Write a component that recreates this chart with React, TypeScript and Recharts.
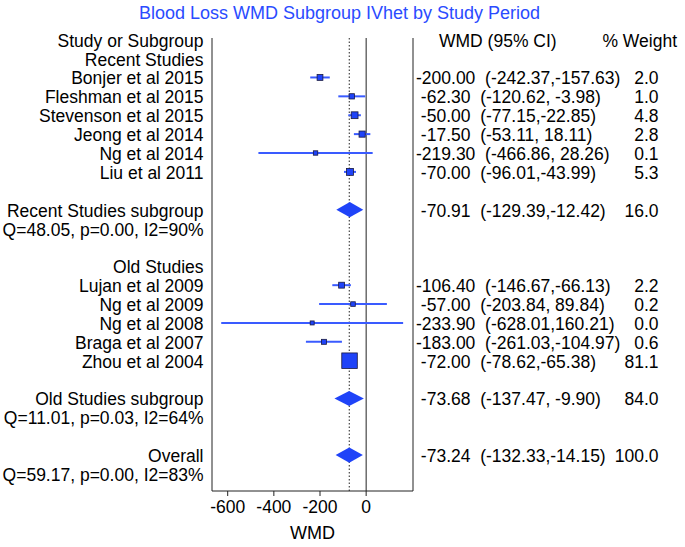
import React from 'react';
import { ScatterChart, Scatter, XAxis, YAxis, ErrorBar, ReferenceLine } from 'recharts';

const FONT = '"Liberation Sans", Arial, Helvetica, sans-serif';

const chartTitle = 'Blood Loss WMD Subgroup IVhet by Study Period';
const headerLeft = 'Study or Subgroup';
const headerCI = 'WMD (95% CI)';
const headerWeight = '% Weight';
const xLabel = 'WMD';

const groupNames = ['Recent Studies', 'Old Studies'];

const recentStudies = ['Bonjer et al 2015', 'Fleshman et al 2015', 'Stevenson et al 2015', 'Jeong et al 2014', 'Ng et al 2014', 'Liu et al 2011'];
const recentWMD = [-200.0, -62.3, -50.0, -17.5, -219.3, -70.0];
const recentLower = [-242.37, -120.62, -77.15, -53.11, -466.86, -96.01];
const recentUpper = [-157.63, -3.98, -22.85, 18.11, 28.26, -43.99];
const recentWeight = [2.0, 1.0, 4.8, 2.8, 0.1, 5.3];

const oldStudies = ['Lujan et al 2009', 'Ng et al 2009', 'Ng et al 2008', 'Braga et al 2007', 'Zhou et al 2004'];
const oldWMD = [-106.4, -57.0, -233.9, -183.0, -72.0];
const oldLower = [-146.67, -203.84, -628.01, -261.03, -78.62];
const oldUpper = [-66.13, 89.84, 160.21, -104.97, -65.38];
const oldWeight = [2.2, 0.2, 0.0, 0.6, 81.1];

const pooledLabels = ['Recent Studies subgroup', 'Old Studies subgroup', 'Overall'];
const pooledWMD = [-70.91, -73.68, -73.24];
const pooledLower = [-129.39, -137.47, -132.33];
const pooledUpper = [-12.42, -9.9, -14.15];
const pooledWeight = [16.0, 84.0, 100.0];
const heterogeneity = ['Q=48.05, p=0.00, I2=90%', 'Q=11.01, p=0.03, I2=64%', 'Q=59.17, p=0.00, I2=83%'];

const xTicks = [-600, -400, -200, 0];

// ---- layout helpers ----
const BLUE_LINE = '#3a5bff';
const BLUE_FILL = '#1f43f8';
const INK = '#222';
const FS = 17.5;

const fmtES = (v: number) => {
  const s = v.toFixed(2);
  return s.length < 7 ? ' ' + s : s;
};
const fmtCI = (lo: number, hi: number) => {
  let h = hi.toFixed(2);
  if (h.length < 6) h = ' ' + h;
  return `(${lo.toFixed(2)},${h})`;
};
const fmtRow = (v: number, lo: number, hi: number) => `${fmtES(v)}  ${fmtCI(lo, hi)}`;

type RowInfo = { left?: string; right?: string; weight?: string; header?: boolean };
const rowInfo: Record<number, RowInfo> = {};
const studyPoints: any[] = [];
const diamonds: any[][] = [];
const DIAMOND_HALF = 0.4;

const makeDiamond = (i: number, row: number) => [
  { x: pooledLower[i], y: row },
  { x: pooledWMD[i], y: row - DIAMOND_HALF },
  { x: pooledUpper[i], y: row },
  { x: pooledWMD[i], y: row + DIAMOND_HALF },
];

const groups = [
  { name: groupNames[0], studies: recentStudies, wmd: recentWMD, lo: recentLower, hi: recentUpper, w: recentWeight },
  { name: groupNames[1], studies: oldStudies, wmd: oldWMD, lo: oldLower, hi: oldUpper, w: oldWeight },
];

let r = 0;
rowInfo[r] = { left: headerLeft, header: true };
r++;
groups.forEach((g, gi) => {
  rowInfo[r] = { left: g.name };
  r++;
  g.studies.forEach((s, i) => {
    rowInfo[r] = { left: s, right: fmtRow(g.wmd[i], g.lo[i], g.hi[i]), weight: g.w[i].toFixed(1) };
    studyPoints.push({ x: g.wmd[i], y: r, err: [g.wmd[i] - g.lo[i], g.hi[i] - g.wmd[i]], w: g.w[i] });
    r++;
  });
  r++;
  rowInfo[r] = {
    left: pooledLabels[gi],
    right: fmtRow(pooledWMD[gi], pooledLower[gi], pooledUpper[gi]),
    weight: pooledWeight[gi].toFixed(1),
  };
  diamonds.push(makeDiamond(gi, r));
  r++;
  rowInfo[r] = { left: heterogeneity[gi] };
  r++;
  r++;
});
rowInfo[r] = { left: pooledLabels[2], right: fmtRow(pooledWMD[2], pooledLower[2], pooledUpper[2]), weight: pooledWeight[2].toFixed(1) };
diamonds.push(makeDiamond(2, r));
r++;
rowInfo[r] = { left: heterogeneity[2] };
r++;

const leftRows = Object.keys(rowInfo).map(Number).filter((k) => rowInfo[k].left);
const rightRows = Object.keys(rowInfo).map(Number).filter((k) => rowInfo[k].right || rowInfo[k].header);

const Y_DOMAIN: [number, number] = [-0.09, 23.9];

const textStyle = { fontSize: FS, fill: '#000', fontFamily: FONT } as const;

const LeftTick = (props: any) => {
  const info = rowInfo[props.payload?.value];
  if (!info || !info.left) return <g />;
  return (
    <text x={203.5} y={props.y + 7} textAnchor="end" {...textStyle}>
      {info.left}
    </text>
  );
};

const RightTick = (props: any) => {
  const info = rowInfo[props.payload?.value];
  if (!info) return <g />;
  if (info.header) {
    return (
      <g>
        <text x={439} y={props.y + 7} {...textStyle}>{headerCI}</text>
        <text x={677} y={props.y + 7} textAnchor="end" {...textStyle}>{headerWeight}</text>
      </g>
    );
  }
  return (
    <g>
      <text x={416} y={props.y + 7} xmlSpace="preserve" style={{ whiteSpace: 'pre' }} {...textStyle}>
        {info.right}
      </text>
      <text x={658.5} y={props.y + 7} textAnchor="end" {...textStyle}>{info.weight}</text>
    </g>
  );
};

const StudySquare = (props: any) => {
  const { cx, cy, payload } = props;
  if (cx == null || cy == null) return <g />;
  const s = 4 + 1.28 * Math.sqrt(payload.w);
  return <rect x={cx - s / 2} y={cy - s / 2} width={s} height={s} fill={BLUE_FILL} stroke="#1a1a40" strokeWidth={0.8} />;
};

const DiamondPath = (props: any) => {
  const pts = props.points || [];
  if (!pts.length) return <g />;
  const d = pts.map((p: any, i: number) => `${i ? 'L' : 'M'}${p.x},${p.y}`).join('') + 'Z';
  return <path d={d} fill={BLUE_FILL} stroke="none" />;
};

const Empty = () => <g />;

export default function App() {
  return (
    <div style={{ position: 'absolute', left: 0, top: 0, width: 685, height: 547, background: '#fff' }}>
      <div
        style={{
          position: 'absolute',
          left: -3,
          top: 3.5,
          width: 685,
          textAlign: 'center',
          fontFamily: FONT,
          fontSize: 18,
          lineHeight: '18px',
          color: '#2a4bff',
          whiteSpace: 'nowrap',
        }}
      >
        {chartTitle}
      </div>
      <ScatterChart width={685} height={547} margin={{ top: 38, right: 0, bottom: 0, left: 0 }} style={{ fontFamily: FONT }}>
        <XAxis
          type="number"
          dataKey="x"
          domain={[-668, 203]}
          allowDataOverflow
          ticks={xTicks}
          interval={0}
          height={56}
          tickSize={5}
          tickMargin={5}
          stroke={INK}
          tick={{ fontSize: FS, fill: '#000', fontFamily: FONT }}
          label={{ value: xLabel, position: 'insideBottom', offset: 8, fontSize: 18, fill: '#000', fontFamily: FONT }}
        />
        <YAxis
          yAxisId="left"
          type="number"
          dataKey="y"
          orientation="left"
          width={212}
          domain={Y_DOMAIN}
          allowDataOverflow
          reversed
          ticks={leftRows}
          interval={0}
          tickLine={false}
          stroke={INK}
          tick={<LeftTick />}
        />
        <YAxis
          yAxisId="right"
          type="number"
          dataKey="y"
          orientation="right"
          width={272}
          domain={Y_DOMAIN}
          allowDataOverflow
          reversed
          ticks={rightRows}
          interval={0}
          tickLine={false}
          stroke={INK}
          tick={<RightTick />}
        />
        <ReferenceLine yAxisId="left" x={0} stroke={INK} strokeWidth={1} />
        <ReferenceLine yAxisId="left" x={pooledWMD[2]} stroke={INK} strokeWidth={1} strokeDasharray="1.5 2" />
        <Scatter yAxisId="left" data={studyPoints} isAnimationActive={false} shape={<StudySquare />}>
          <ErrorBar dataKey="err" direction="x" width={0} stroke={BLUE_LINE} strokeWidth={2} isAnimationActive={false} />
        </Scatter>
        {diamonds.map((d, i) => (
          <Scatter key={i} yAxisId="left" data={d} isAnimationActive={false} shape={<Empty />} line={DiamondPath} />
        ))}
      </ScatterChart>
    </div>
  );
}
